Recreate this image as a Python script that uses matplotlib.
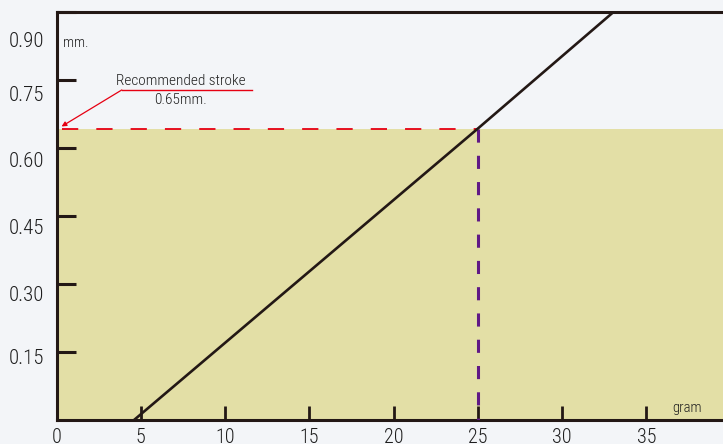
import matplotlib
matplotlib.use("Agg")
import matplotlib.pyplot as plt
from matplotlib import font_manager

# ---- data ----
x_ticks = [0, 5, 10, 15, 20, 25, 30, 35]
x_tick_labels = ["0", "5", "10", "15", "20", "25", "30", "35"]
y_tick_values = [0.15, 0.30, 0.45, 0.60, 0.75, 0.90]
y_tick_labels = ["0.15", "0.30", "0.45", "0.60", "0.75", "0.90"]
# positions at which the printed labels sit (they drift from the marks)
y_label_positions = [0.141, 0.280, 0.426, 0.574, 0.721, 0.840]

line_gram = [4.6, 25.0, 33.2]
line_mm = [0.0, 0.643, 0.905]

recommended_gram = 25.0
recommended_mm = 0.643

x_max = 39.54
y_max = 0.90

# ---- fonts ----
names = {f.name for f in font_manager.fontManager.ttflist}
fam = [n for n in ["Liberation Sans Narrow", "Roboto Condensed", "Liberation Sans", "DejaVu Sans"] if n in names]
plt.rcParams["font.family"] = fam

BG = "#f3f5f8"
FILL = "#e3dfa6"
INK = "#231815"
RED = "#e60012"
PURPLE = "#601986"
TXT = "#1e1e1e"
W = "light"

fig = plt.figure(figsize=(7.23, 4.44), dpi=100, facecolor=BG)
ax = fig.add_axes([56.5 / 723, 24 / 444, 1 - 56.5 / 723, (420 - 12) / 444])
ax.set_facecolor(BG)
ax.set_xlim(0, x_max)
ax.set_ylim(0, y_max)

# shaded region up to recommended stroke
ax.fill_between([0, x_max], 0, recommended_mm, color=FILL, lw=0, zorder=1)

# main line
ax.plot(line_gram, line_mm, color=INK, lw=1.9, zorder=4, solid_capstyle="butt")

# red dashed horizontal
ax.plot([0.3, recommended_gram], [recommended_mm, recommended_mm], color=RED, lw=1.3,
        dashes=(9, 10), zorder=3)
# purple dashed vertical
ax.plot([recommended_gram, recommended_gram], [recommended_mm, 0], color=PURPLE, lw=2.2,
        dashes=(4.3, 4.3), zorder=3)

# annotation
ax.plot([3.87, 11.58], [0.728, 0.728], color=RED, lw=1.0, zorder=3)
ax.annotate("", xy=(0.30, 0.6475), xytext=(3.87, 0.728),
            arrowprops=dict(arrowstyle="-|>", color=RED, lw=0.9, mutation_scale=7,
                            shrinkA=0, shrinkB=0), zorder=3)
ax.text(7.37, 0.748, "Recommended stroke", ha="center", va="center", fontsize=11,
        color=TXT, fontweight=W)
ax.text(7.35, 0.706, "0.65mm.", ha="center", va="center", fontsize=11, color=TXT,
        fontweight=W)

ax.text(0.37, 0.832, "mm.", ha="left", va="center", fontsize=10.5, color=TXT, fontweight=W)
ax.text(37.38, 0.0265, "gram", ha="center", va="center", fontsize=10.5, color=TXT,
        fontweight=W)

# spines
for s in ["left", "bottom", "top"]:
    ax.spines[s].set_color(INK)
    ax.spines[s].set_linewidth(2.2)
ax.spines["right"].set_visible(False)

# x ticks
ax.set_xticks(x_ticks)
ax.set_xticklabels(x_tick_labels, fontsize=14.5, color=TXT, fontweight=W)
ax.tick_params(axis="x", direction="in", length=10, width=2.0, color=INK, pad=6)

# y ticks: marks as minor ticks, labels as major ticks
ax.set_yticks(y_label_positions)
ax.set_yticklabels(y_tick_labels, fontsize=15, color=TXT, fontweight=W)
ax.tick_params(axis="y", which="major", length=0, pad=9)
ax.set_yticks(y_tick_values, minor=True)
ax.tick_params(axis="y", which="minor", direction="in", length=14, width=2.2, color=INK)
ax.tick_params(axis="x", which="minor", length=0)

fig.savefig("out.png", dpi=100, facecolor=BG)
